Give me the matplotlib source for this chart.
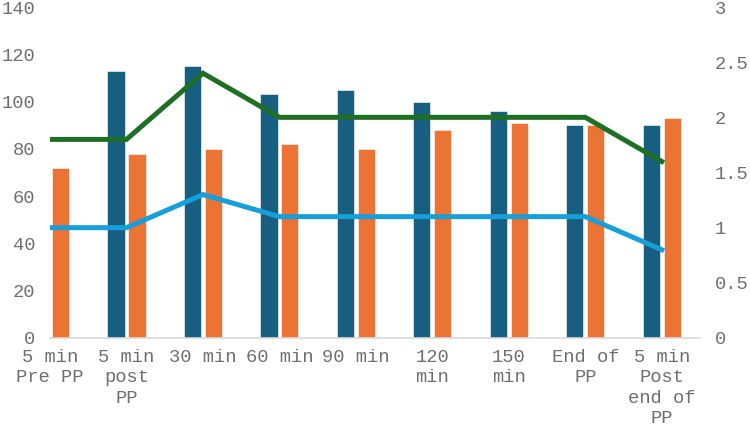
import matplotlib
matplotlib.use("Agg")
import matplotlib.pyplot as plt
import numpy as np

categories = ["5 min\nPre PP", "5 min\npost\nPP", "30 min", "60 min", "90 min",
              "120\nmin", "150\nmin", "End of\nPP", "5 min\nPost\nend of\nPP"]
series_blue = [np.nan, 113, 115, 103, 105, 100, 96, 90, 90]
series_orange = [72, 78, 80, 82, 80, 88, 91, 90, 93]
line_green = [1.8, 1.8, 2.4, 2.0, 2.0, 2.0, 2.0, 2.0, 1.6]
line_lightblue = [1.0, 1.0, 1.3, 1.1, 1.1, 1.1, 1.1, 1.1, 0.8]
left_ticks = [0, 20, 40, 60, 80, 100, 120, 140]
right_ticks = [0, 0.5, 1, 1.5, 2, 2.5, 3]
right_labels = ["0", "0.5", "1", "1.5", "2", "2.5", "3"]

plt.rcParams['font.family'] = ['Liberation Mono', 'DejaVu Sans Mono']
txt_color = "#6E6E6E"
fs = 13.5

fig = plt.figure(figsize=(7.5, 4.33), dpi=100)
ax = fig.add_axes([50/750, 1-338/433, 650/750, 331/433])
x = np.arange(len(categories))
bw = 0.225
off = 0.137
ax.bar(x - off, series_blue, width=bw, color="#175E80", edgecolor="white", linewidth=0.4, zorder=2)
ax.bar(x + off, series_orange, width=bw, color="#EB7333", edgecolor="white", linewidth=0.4, zorder=2)
ax.set_xlim(0, 8.5)
ax.set_ylim(0, 140)
ax.set_yticks(left_ticks)
ax.set_xticks(x)
ax.set_xticklabels(categories, linespacing=1.25)
for s in ["top", "right", "left"]:
    ax.spines[s].set_visible(False)
ax.spines["bottom"].set_color("#D9D9D9")
ax.spines["bottom"].set_linewidth(1.2)
ax.tick_params(axis="both", length=0, colors=txt_color, labelsize=fs)
ax.tick_params(axis="y", pad=10.5)
ax.tick_params(axis="x", pad=8)

ax2 = ax.twinx()
ax2.plot(x, line_green, color="#1E6E24", linewidth=3.6, solid_joinstyle="miter", zorder=3)
ax2.plot(x, line_lightblue, color="#179FD9", linewidth=3.6, solid_joinstyle="miter", zorder=3)
ax2.set_ylim(0, 3)
ax2.set_yticks(right_ticks)
ax2.set_yticklabels(right_labels)
for s in ["top", "right", "left", "bottom"]:
    ax2.spines[s].set_visible(False)
ax2.tick_params(axis="y", length=0, colors=txt_color, labelsize=fs, pad=10.5)

fig.savefig("out.png", dpi=100)
